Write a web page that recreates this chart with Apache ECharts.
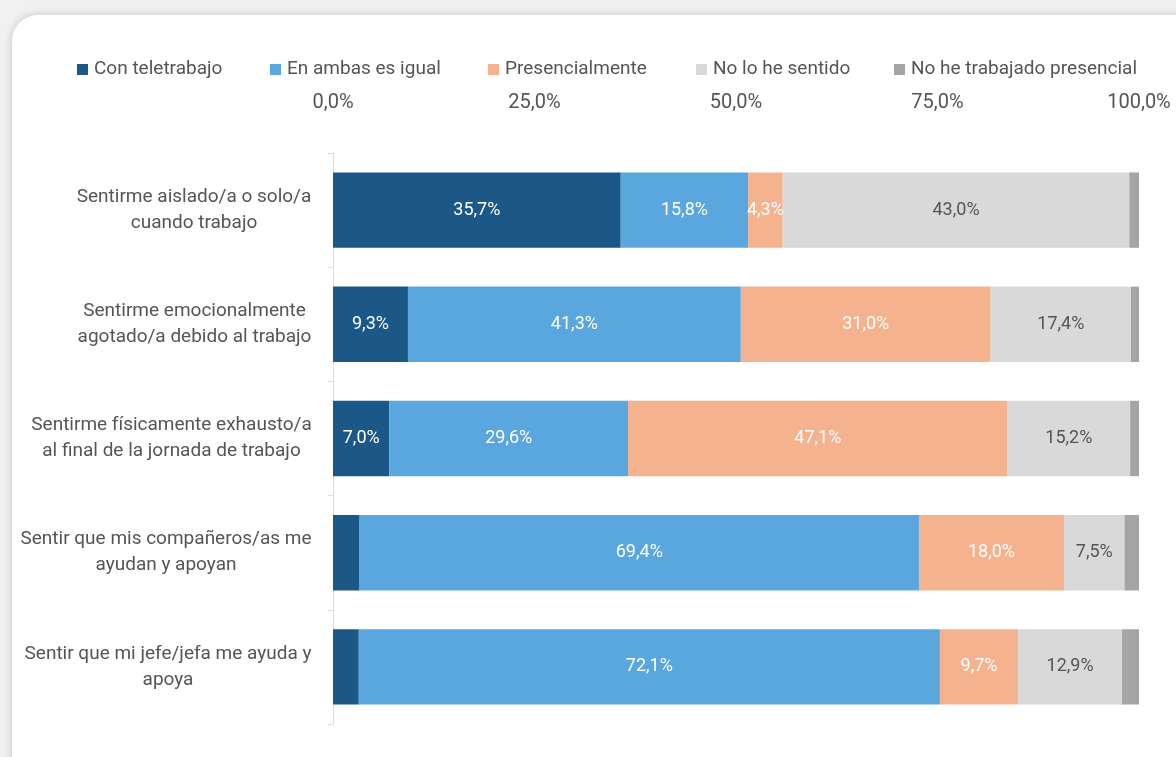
<!DOCTYPE html>
<html><head><meta charset="utf-8">
<script src="https://cdn.jsdelivr.net/npm/echarts@6/dist/echarts.min.js"></script>
<style>
html,body{margin:0;padding:0;width:1176px;height:757px;background:#f1f1f1;overflow:hidden;}
#card{position:absolute;left:12px;top:15px;width:1190px;height:780px;background:#fff;border-radius:26px;box-shadow:0 0 10px rgba(0,0,0,0.18);}
#c{position:absolute;left:0;top:0;width:1176px;height:757px;}
</style></head>
<body>
<div id="card"></div>
<div id="c"></div>
<script>
const categories = [
  'Sentirme aislado/a o solo/a\ncuando trabajo',
  'Sentirme emocionalmente\nagotado/a debido al trabajo',
  'Sentirme físicamente exhausto/a\nal final de la jornada de trabajo',
  'Sentir que mis compañeros/as me\nayudan y apoyan',
  'Sentir que mi jefe/jefa me ayuda y\napoya'
];
const seriesNames = ['Con teletrabajo','En ambas es igual','Presencialmente','No lo he sentido','No he trabajado presencial'];
const conTeletrabajo = [35.7, 9.3, 7.0, 3.3, 3.2];
const enAmbas = [15.8, 41.3, 29.6, 69.4, 72.1];
const presencialmente = [4.3, 31.0, 47.1, 18.0, 9.7];
const noSentido = [43.0, 17.4, 15.2, 7.5, 12.9];
const noTrabajado = [1.2, 1.0, 1.1, 1.8, 2.1];
const tickLabels = ['0,0%','25,0%','50,0%','75,0%','100,0%'];
// which segments carry a value label (per series, per category)
const showLabel = [
  [true,true,true,false,false],
  [true,true,true,true,true],
  [true,true,true,true,true],
  [true,true,true,true,true],
  [false,false,false,false,false]
];

const colors = ['#1b5787','#5aa7e0','#f4b38e','#d9d9d9','#a5a5a5'];
const labelColors = ['#ffffff','#ffffff','#ffffff','#555555','#555555'];
const FONT = "Roboto,sans-serif";
const dataSets = [conTeletrabajo, enAmbas, presencialmente, noSentido, noTrabajado];
const legendLeft = [72, 265, 483, 691, 889];
const CAT_FS = 19;

const fmt = v => v.toFixed(1).replace('.', ',') + '%';

// measure category label widths so each block is right-aligned with centred lines
const cv = document.createElement('canvas').getContext('2d');
cv.font = CAT_FS + 'px Roboto';
const catWidths = categories.map(c => Math.max(...c.split('\n').map(s => cv.measureText(s).width)));
const wMax = Math.max(...catWidths);
const rich = {};
categories.forEach((c, i) => {
  rich['c' + i] = {fontFamily:FONT, fontSize:CAT_FS, color:'#555', lineHeight:26,
    padding:[0,0,0,Math.round(wMax - catWidths[i])]};
});

const chart = echarts.init(document.getElementById('c'));
chart.setOption({
  animation:false,
  color: colors,
  textStyle:{fontFamily:FONT},
  legend: seriesNames.map((n, i) => ({
    top:55, left:legendLeft[i],
    itemWidth:11, itemHeight:11, itemGap:0,
    icon:'rect',
    textStyle:{fontFamily:FONT, fontSize:19, color:'#555', padding:[0,0,0,1]},
    data:[n]
  })),
  grid:{left:333, right:37, top:153, bottom:33, containLabel:false, outerBoundsMode:'none'},
  xAxis:{
    type:'value', position:'top', min:0, max:100, interval:25,
    axisLine:{show:false}, axisTick:{show:false}, splitLine:{show:false},
    axisLabel:{fontFamily:FONT, fontSize:20, color:'#555', margin:40,
      formatter: v => tickLabels[Math.round(v/25)]}
  },
  yAxis:{
    type:'category', inverse:true, data:categories,
    axisLine:{show:true, lineStyle:{color:'#e4ddd5', width:1}},
    axisTick:{show:true, length:5, lineStyle:{color:'#e4ddd5'}},
    axisLabel:{fontFamily:FONT, fontSize:CAT_FS, color:'#555', lineHeight:26,
      margin: Math.round(21 + wMax / 2), align:'center',
      formatter: (v, idx) => v.split('\n').map(s => '{c' + idx + '|' + s + '}').join('\n'),
      rich}
  },
  series: seriesNames.map((name, i) => ({
    name, type:'bar', stack:'total', barCategoryGap:'34%',
    data: dataSets[i].map((v, j) => ({
      value:v,
      label:{show: showLabel[i][j]}
    })),
    label:{
      position:'inside', fontFamily:FONT, fontSize:18, color:labelColors[i],
      formatter: p => fmt(p.value)
    },
    itemStyle:{color:colors[i]}
  }))
});
</script>
</body></html>
